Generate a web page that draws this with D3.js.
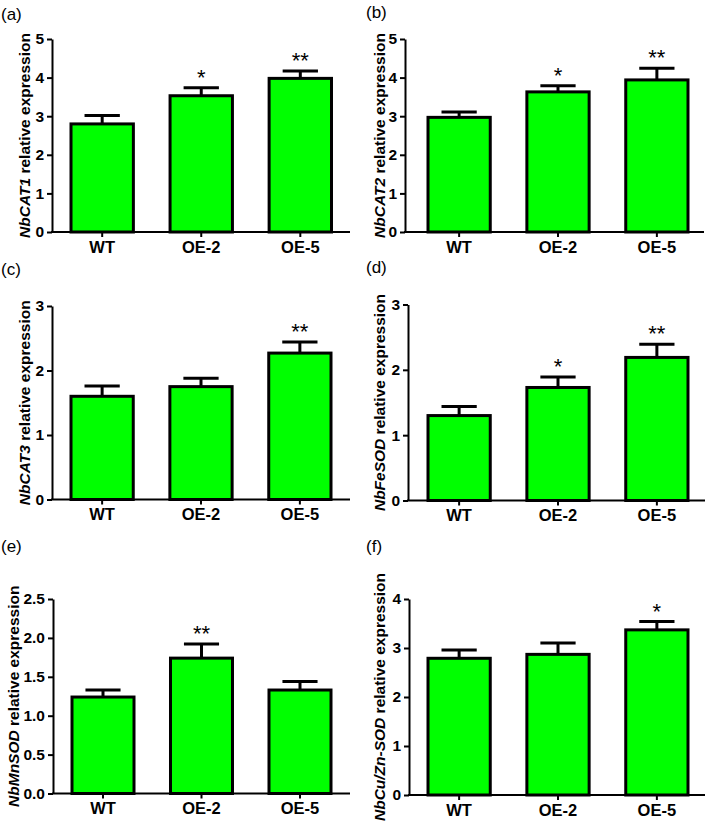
<!DOCTYPE html>
<html>
<head>
<meta charset="utf-8">
<script src="https://cdn.jsdelivr.net/npm/d3@7"></script>
<style>
  html, body { margin: 0; padding: 0; background: #fff; }
  svg { display: block; }
  text { font-family: "Liberation Sans", Arial, sans-serif; fill: #000; }
</style>
</head>
<body>
<svg id="chart" width="709" height="829"></svg>
<script>
// ---- data ----
const categories = ["WT", "OE-2", "OE-5"];
const panelLabels = ["(a)", "(b)", "(c)", "(d)", "(e)", "(f)"];
const genes = ["NbCAT1", "NbCAT2", "NbCAT3", "NbFeSOD", "NbMnSOD", "NbCu/Zn-SOD"];

const meanCAT1 = [2.80, 3.53, 3.98];
const errCAT1  = [0.22, 0.21, 0.19];
const sigCAT1  = ["", "*", "**"];

const meanCAT2 = [2.97, 3.63, 3.94];
const errCAT2  = [0.14, 0.16, 0.30];
const sigCAT2  = ["", "*", "**"];

const meanCAT3 = [1.60, 1.75, 2.27];
const errCAT3  = [0.16, 0.13, 0.17];
const sigCAT3  = ["", "", "**"];

const meanFeSOD = [1.30, 1.73, 2.19];
const errFeSOD  = [0.14, 0.16, 0.20];
const sigFeSOD  = ["", "*", "**"];

const meanMnSOD = [1.24, 1.74, 1.33];
const errMnSOD  = [0.09, 0.18, 0.11];
const sigMnSOD  = ["", "**", ""];

const meanCuZnSOD = [2.79, 2.87, 3.37];
const errCuZnSOD  = [0.17, 0.23, 0.17];
const sigCuZnSOD  = ["", "", "*"];

const yMaxes = [5, 5, 3, 3, 2.5, 4];
const yTickSteps = [1, 1, 1, 1, 0.5, 1];
const yTickFormats = ["d", "d", "d", "d", ".1f", "d"];

const means = [meanCAT1, meanCAT2, meanCAT3, meanFeSOD, meanMnSOD, meanCuZnSOD];
const errs  = [errCAT1, errCAT2, errCAT3, errFeSOD, errMnSOD, errCuZnSOD];
const sigs  = [sigCAT1, sigCAT2, sigCAT3, sigFeSOD, sigMnSOD, sigCuZnSOD];

// ---- layout (pixel geometry of each panel) ----
const layout = [
  {ax: 52,  axEnd: 350, b0: 69.5,  b1: 333,   top: 39,    bot: 232,   lx: 1,   ly: 20,    tx: 29.5},
  {ax: 405, axEnd: 704, b0: 426.5, b1: 689.5, top: 39,    bot: 232,   lx: 366, ly: 18,    tx: 384.5},
  {ax: 52,  axEnd: 350, b0: 69.5,  b1: 332.5, top: 306,   bot: 499.5, lx: 1,   ly: 274.5, tx: 29.5},
  {ax: 408, axEnd: 705, b0: 426.5, b1: 689.5, top: 304.5, bot: 500.5, lx: 366, ly: 273,   tx: 384.5},
  {ax: 53,  axEnd: 350, b0: 70.5,  b1: 332.5, top: 599,   bot: 793.5, lx: 1,   ly: 551.5, tx: 18.5},
  {ax: 409, axEnd: 705, b0: 426.5, b1: 689.5, top: 599,   bot: 795,   lx: 366, ly: 552,   tx: 384.5}
];

const svg = d3.select("#chart");
const green = "#00ff00";

layout.forEach((L, i) => {
  const g = svg.append("g");
  const x = d3.scaleBand().domain(categories).range([L.b0, L.b1]).paddingInner(0.34).paddingOuter(0);
  const y = d3.scaleLinear().domain([0, yMaxes[i]]).range([L.bot, L.top]);
  const ticks = d3.range(0, yMaxes[i] + yTickSteps[i] / 2, yTickSteps[i]);

  const rows = categories.map((c, k) => ({c, m: means[i][k], e: errs[i][k], s: sigs[i][k]}));

  // error bars (drawn first, bars cover lower part)
  const eb = g.append("g").attr("stroke", "#000").attr("stroke-width", 3).attr("fill", "none");
  eb.selectAll("line.v").data(rows).join("line")
    .attr("x1", d => x(d.c) + x.bandwidth() / 2).attr("x2", d => x(d.c) + x.bandwidth() / 2)
    .attr("y1", d => y(d.m)).attr("y2", d => y(d.m + d.e));
  eb.selectAll("line.cap").data(rows).join("line")
    .attr("x1", d => x(d.c) + x.bandwidth() * 0.23).attr("x2", d => x(d.c) + x.bandwidth() * 0.77)
    .attr("y1", d => y(d.m + d.e)).attr("y2", d => y(d.m + d.e));

  // bars
  g.append("g").selectAll("rect").data(rows).join("rect")
    .attr("x", d => x(d.c) + 1.5)
    .attr("width", x.bandwidth() - 3)
    .attr("y", d => y(d.m))
    .attr("height", d => y(0) - y(d.m))
    .attr("fill", green)
    .attr("stroke", "#000")
    .attr("stroke-width", 3);

  // significance stars
  g.append("g").selectAll("text").data(rows.filter(d => d.s)).join("text")
    .attr("x", d => x(d.c) + x.bandwidth() / 2)
    .attr("y", d => y(d.m + d.e) - 3)
    .attr("text-anchor", "middle")
    .style("font-size", "22px")
    .text(d => d.s);

  // y axis
  const yAxis = g.append("g").attr("transform", `translate(${L.ax},0)`)
    .call(d3.axisLeft(y).tickValues(ticks).tickFormat(d3.format(yTickFormats[i])).tickSize(5).tickSizeOuter(0).tickPadding(3));
  yAxis.select(".domain").attr("stroke-width", 2);
  yAxis.selectAll(".tick line").attr("stroke-width", 2);
  yAxis.selectAll("text").style("font-size", "15.5px").style("font-weight", "bold").attr("font-family", null);

  // x axis
  const xAxis = g.append("g").attr("transform", `translate(0,${L.bot})`)
    .call(d3.axisBottom(x).tickSize(5).tickSizeOuter(0).tickPadding(4));
  xAxis.select(".domain").remove();
  xAxis.selectAll(".tick line").attr("stroke-width", 2);
  xAxis.selectAll("text").style("font-size", "16.5px").style("font-weight", "bold").attr("font-family", null);
  g.append("line")
    .attr("x1", L.ax - 1).attr("x2", L.axEnd)
    .attr("y1", y(0)).attr("y2", y(0))
    .attr("stroke", "#000").attr("stroke-width", 2);

  // y title
  const yc = (y(0) + y(yMaxes[i])) / 2;
  const t = g.append("text")
    .attr("transform", `translate(${L.tx},${yc}) rotate(-90)`)
    .attr("text-anchor", "middle")
    .style("font-size", "15.5px")
    .style("font-weight", "bold");
  t.append("tspan").style("font-style", "italic").text(genes[i]);
  t.append("tspan").text(" relative expression");

  // panel letter
  g.append("text").attr("x", L.lx).attr("y", L.ly).style("font-size", "17px").text(panelLabels[i]);
});
</script>
</body>
</html>
